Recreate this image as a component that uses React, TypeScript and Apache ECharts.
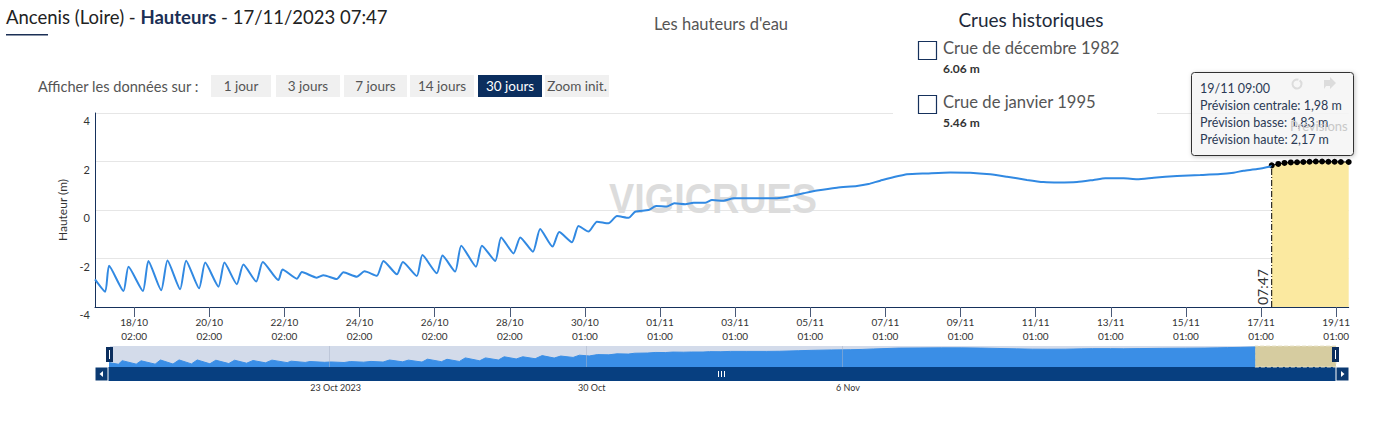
import React, { useEffect, useRef } from 'react';
import * as echarts from 'echarts';

// Observed heights: hours since 18/10/2023 00:00 UTC, level in metres
const obsHours = [
  -25, -18.5, -16.0, -6.8, -3.6, 5.6, 9.1, 17.3, 21.3, 29.4, 33.2, 41.5, 45.4, 53.9, 57.7,
  65.6, 69.8, 78.0, 82.2, 92.2, 94.8, 104.0, 107.2, 116.7, 121.0, 129.5, 133.7, 142.3, 147.2,
  155.1, 159.3, 167.9, 171.7, 180.6, 184.2, 193.4, 197.0, 205.1, 209.0, 218.4, 222.2, 230.7,
  234.5, 242.4, 246.7, 254.8, 259.4, 267.3, 271.6, 279.7, 283.9, 290.3, 295.7, 303.1, 308.5,
  315.9, 320.1, 328.6, 333.5, 340.4, 345.1, 352.1, 357.4, 364.9, 369.2, 376.6, 383.0, 393.6,
  406.4, 414.9, 427.7, 436.3, 449.0, 461.8, 469.2, 476.7, 493.7, 506.5, 521.4, 534.2, 547.0,
  557.7, 570.4, 581.0, 590.6, 602.4, 613.0, 620.5, 632.2, 640.8, 651.4, 666.3, 681.2, 694.0,
  702.5, 708.9, 717.5, 727.0,
];
const obsLevels = [
  -2.86, -3.37, -2.30, -3.34, -2.34, -3.34, -2.10, -3.31, -2.08, -3.27, -2.09, -3.23, -2.17, -3.16, -2.17,
  -3.06, -2.25, -2.95, -2.14, -2.89, -2.45, -2.83, -2.56, -2.79, -2.69, -2.85, -2.57, -2.75, -2.53,
  -2.71, -2.10, -2.65, -2.14, -2.72, -1.86, -2.61, -1.88, -2.54, -1.47, -2.34, -1.47, -2.10,
  -1.13, -1.79, -1.13, -1.72, -0.78, -1.51, -0.91, -1.33, -0.66, -0.89, -0.48, -0.55, -0.25,
  -0.32, -0.07, 0.0, 0.16, 0.14, 0.28, 0.24, 0.30, 0.30, 0.41, 0.38, 0.48, 0.48,
  0.48, 0.52, 0.69, 0.80, 0.92, 0.99, 1.07, 1.21, 1.47, 1.51, 1.55, 1.54, 1.47,
  1.37, 1.24, 1.15, 1.13, 1.15, 1.24, 1.31, 1.31, 1.27, 1.33, 1.40, 1.44, 1.48,
  1.54, 1.62, 1.69, 1.81,
];

// Forecast (central)
const fcHours = [726.8, 731, 735, 739, 743, 747, 751, 755, 759, 763, 767, 771, 776];
const fcLevels = [1.84, 1.9, 1.94, 1.96, 1.97, 1.98, 1.99, 2.0, 2.0, 1.99, 1.99, 1.98, 1.98];
const fcLowLast = '1,83';
const fcHighLast = '2,17';
const fcCentralLast = '1,98';
const tooltipTime = '19/11 09:00';

const nowHour = 726.8;
const nowLabel = '07:47';

const tickHours = [0, 48, 96, 144, 192, 240, 288, 336, 384, 432, 480, 528, 576, 624, 672, 720, 768];
const tickLabels = [
  '18/10\n02:00', '20/10\n02:00', '22/10\n02:00', '24/10\n02:00', '26/10\n02:00', '28/10\n02:00',
  '30/10\n01:00', '01/11\n01:00', '03/11\n01:00', '05/11\n01:00', '07/11\n01:00', '09/11\n01:00',
  '11/11\n01:00', '13/11\n01:00', '15/11\n01:00', '17/11\n01:00', '19/11\n01:00',
];
const navHours = [120, 288, 456];
const navLabels = ['23 Oct 2023', '30 Oct', '6 Nov'];

const crueNames = ['Crue de décembre 1982', 'Crue de janvier 1995'];
const crueValues = ['6.06 m', '5.46 m'];
const rangeButtons = ['1 jour', '3 jours', '7 jours', '14 jours', '30 jours', 'Zoom init.'];
const activeButton = '30 jours';

const NAVY = '#16315c';
const FONT = 'Lato, "Liberation Sans", sans-serif';

export default function App() {
  const ref = useRef<HTMLDivElement>(null);
  useEffect(() => {
    if (!ref.current) return;
    const chart = echarts.init(ref.current, undefined, { renderer: 'svg' });
    const obs = obsHours.map((h, i) => [h, obsLevels[i]]);
    const fc = fcHours.map((h, i) => [h, fcLevels[i]]);
    chart.setOption({
      animation: false,
      textStyle: { fontFamily: FONT },
      grid: [
        { left: 95, right: 36.3, top: 113, height: 194 },
        { left: 110, right: 49, top: 346, height: 21, show: true, backgroundColor: '#d3dbea', borderWidth: 0 },
      ],
      xAxis: [
        {
          type: 'value', gridIndex: 0, min: -25, max: 776,
          axisLine: { onZero: false, lineStyle: { color: NAVY, width: 1 } },
          axisTick: { show: true, customValues: tickHours, length: 10, lineStyle: { color: '#4a5a78' } },
          axisLabel: {
            customValues: tickHours, fontSize: 10, lineHeight: 14, margin: 8, color: '#333',
            formatter: (v: number) => tickLabels[Math.round(v / 48)] ?? '',
          },
          splitLine: { show: false },
        },
        {
          type: 'value', gridIndex: 1, min: -24, max: 780,
          axisLine: { show: false }, axisTick: { show: false },
          axisLabel: {
            customValues: navHours, fontSize: 9, margin: 16, color: '#333', padding: [0, 0, 0, 12],
            formatter: (v: number) => navLabels[navHours.indexOf(v)] ?? '',
          },
          splitLine: { show: false },
        },
      ],
      yAxis: [
        {
          type: 'value', gridIndex: 0, min: -4, max: 4, interval: 2,
          name: 'Hauteur (m)', nameLocation: 'middle', nameGap: 17, nameRotate: 90,
          nameTextStyle: { fontSize: 12, color: '#333' },
          axisLine: { show: true, onZero: false, lineStyle: { color: NAVY, width: 1 } },
          axisTick: { show: false },
          axisLabel: { fontSize: 11, color: '#333', verticalAlign: 'top', padding: [2, 0, 0, 0], margin: 5 },
          splitLine: { lineStyle: { color: '#e6e6e6' } },
        },
        { type: 'value', gridIndex: 1, min: -4.2, max: 2.1, show: false },
      ],
      series: [
        {
          type: 'line', xAxisIndex: 0, yAxisIndex: 0, data: fc, z: 1,
          symbol: 'circle', symbolSize: 6, showSymbol: true,
          itemStyle: { color: '#000' }, lineStyle: { color: '#000', width: 1 },
          areaStyle: { color: '#fbe9a0', opacity: 1, origin: 'start' },
        },
        {
          type: 'line', xAxisIndex: 0, yAxisIndex: 0, z: 3,
          data: [[nowHour, -4], [nowHour, fcLevels[0]]],
          symbol: 'none', lineStyle: { color: '#000', width: 1, type: [6, 2, 1, 2] },
        },
        {
          type: 'line', xAxisIndex: 0, yAxisIndex: 0, data: obs, z: 2,
          symbol: 'none', smooth: 0.2, lineStyle: { color: '#3189e2', width: 2 },
        },
        {
          type: 'line', xAxisIndex: 1, yAxisIndex: 1, data: obs, symbol: 'none', z: 2,
          lineStyle: { color: '#3a8ee6', width: 1 },
          areaStyle: { color: '#3a8ee6', opacity: 1, origin: 'start' },
          markLine: {
            silent: true, symbol: 'none', label: { show: false },
            lineStyle: { color: 'rgba(170,180,200,0.5)', width: 1, type: 'solid' },
            data: navHours.map((h) => ({ xAxis: h })),
          },
        },
        {
          type: 'line', xAxisIndex: 1, yAxisIndex: 1, data: fc, symbol: 'none', z: 5,
          lineStyle: { width: 0, opacity: 0 },
          markArea: {
            silent: true, itemStyle: { color: '#d6cca0', borderColor: '#e8e2c8', borderType: 'dashed', borderWidth: 1 },
            data: [[{ xAxis: nowHour }, { xAxis: 780 }]],
          },
        },
      ],
    });

    const [nx, ny] = chart.convertToPixel({ gridIndex: 0 }, [nowHour, -4]) as number[];

    const btnX = [211, 276, 344, 410, 478, 545];
    const btnW = [60, 64, 63, 64, 64, 64];
    const buttons: any[] = [];
    rangeButtons.forEach((b, i) => {
      const active = b === activeButton;
      buttons.push({
        type: 'rect', shape: { x: btnX[i], y: 75, width: btnW[i], height: 22 },
        style: { fill: active ? '#0b2e5e' : '#f0f0f0' },
      });
      buttons.push({
        type: 'text', x: btnX[i] + btnW[i] / 2, y: 86,
        style: { text: b, fill: active ? '#fff' : '#555', font: `13.5px ${FONT}`, align: 'center', verticalAlign: 'middle' },
      });
    });

    const crues: any[] = [];
    crueNames.forEach((n, i) => {
      const y0 = 41 + i * 54;
      crues.push({ type: 'rect', z: 11, shape: { x: 918.5, y: y0 + 0.5, width: 18, height: 18 }, style: { fill: '#fff', stroke: NAVY, lineWidth: 1.2 } });
      crues.push({ type: 'text', z: 11, x: 943, y: y0 + 7, style: { text: n, fill: '#555', font: `16.6px ${FONT}`, verticalAlign: 'middle' } });
      crues.push({ type: 'text', z: 11, x: 943, y: y0 + 27, style: { text: crueValues[i], fill: '#333', font: `bold 12px ${FONT}`, verticalAlign: 'middle' } });
    });

    chart.setOption({
      graphic: [
        {
          type: 'text', x: 713, y: 198, z: 0, scaleX: 0.9,
          style: { text: 'VIGICRUES', fill: '#dcdcdc', font: `bold 42px "Liberation Sans", sans-serif`, align: 'center', verticalAlign: 'middle' },
        },
        {
          type: 'text', x: 6, y: 17,
          style: {
            text: '{a|Ancenis (Loire) - }{b|Hauteurs}{a| - 17/11/2023 07:47}',
            rich: {
              a: { fontSize: 18.5, fontFamily: FONT, fill: '#222' },
              b: { fontSize: 18.5, fontFamily: FONT, fontWeight: 'bold', fill: '#1b2f55' },
            },
            verticalAlign: 'middle',
          },
        },
        { type: 'rect', shape: { x: 6, y: 34, width: 42, height: 1.5 }, style: { fill: '#1b2f55' } },
        { type: 'text', x: 721, y: 24, style: { text: "Les hauteurs d'eau", fill: '#555', font: `16.5px ${FONT}`, align: 'center', verticalAlign: 'middle' } },
        { type: 'rect', z: 10, shape: { x: 893, y: 0, width: 264, height: 130 }, style: { fill: '#fff' } },
        { type: 'text', z: 11, x: 1031, y: 19, style: { text: 'Crues historiques', fill: '#1e2a3a', font: `19px ${FONT}`, align: 'center', verticalAlign: 'middle' } },
        ...crues,
        { type: 'text', x: 38, y: 86, style: { text: 'Afficher les données sur :', fill: '#555', font: `14.6px ${FONT}`, verticalAlign: 'middle' } },
        ...buttons,
        {
          type: 'text', x: nx - 9, y: ny - 2, rotation: Math.PI / 2,
          style: { text: nowLabel, fill: '#333', font: `14px ${FONT}`, align: 'left', verticalAlign: 'middle' },
        },
        // navigator handles
        { type: 'rect', shape: { x: 106, y: 347, width: 7, height: 15 }, style: { fill: '#0b2e5e' } },
        { type: 'line', shape: { x1: 109.5, y1: 350, x2: 109.5, y2: 359 }, style: { stroke: '#fff', lineWidth: 1 } },
        { type: 'rect', z: 20, shape: { x: 1332, y: 347, width: 7, height: 15 }, style: { fill: '#0b2e5e' } },
        { type: 'line', z: 21, shape: { x1: 1335.5, y1: 350, x2: 1335.5, y2: 359 }, style: { stroke: '#fff', lineWidth: 1 } },
        // scrollbar
        { type: 'rect', shape: { x: 95, y: 367, width: 1254, height: 14 }, style: { fill: '#073f80' } },
        { type: 'rect', shape: { x: 95, y: 367, width: 13, height: 14 }, style: { fill: '#0b3a72', stroke: '#fff', lineWidth: 1 } },
        { type: 'rect', shape: { x: 1336, y: 367, width: 13, height: 14 }, style: { fill: '#0b3a72', stroke: '#fff', lineWidth: 1 } },
        { type: 'polygon', shape: { points: [[103, 371], [103, 377], [99.5, 374]] }, style: { fill: '#fff' } },
        { type: 'polygon', shape: { points: [[1341, 371], [1341, 377], [1344.5, 374]] }, style: { fill: '#fff' } },
        { type: 'line', shape: { x1: 718.5, y1: 371, x2: 718.5, y2: 377 }, style: { stroke: '#fff', lineWidth: 1 } },
        { type: 'line', shape: { x1: 721.5, y1: 371, x2: 721.5, y2: 377 }, style: { stroke: '#fff', lineWidth: 1 } },
        { type: 'line', shape: { x1: 724.5, y1: 371, x2: 724.5, y2: 377 }, style: { stroke: '#fff', lineWidth: 1 } },
        // plot band label + tooltip
        { type: 'text', x: 1290, y: 126, z: 50, style: { text: 'Prévisions', fill: '#c8c8c8', font: `13px ${FONT}`, verticalAlign: 'middle' } },
        {
          type: 'group', z: 100,
          children: [
            {
              type: 'rect', shape: { x: 1191.5, y: 72.5, width: 162, height: 83, r: 3 },
              style: { fill: 'rgba(248,248,248,0.85)', stroke: '#333', lineWidth: 1, shadowBlur: 4, shadowColor: 'rgba(0,0,0,0.25)', shadowOffsetX: 1, shadowOffsetY: 1 },
            },
            { type: 'arc', shape: { cx: 1297, cy: 84, r: 4.5, startAngle: -Math.PI * 0.3, endAngle: Math.PI * 1.6 }, style: { stroke: '#dcdcdc', lineWidth: 2, fill: 'none' } },
            { type: 'polygon', shape: { points: [[1336, 83], [1330, 77], [1330, 80], [1324, 80], [1324, 89], [1326, 86], [1330, 86], [1330, 89]] }, style: { fill: '#dcdcdc' } },
            { type: 'text', x: 1200, y: 88, style: { text: tooltipTime, fill: '#2b3a55', font: `12.5px ${FONT}`, verticalAlign: 'middle' } },
            { type: 'text', x: 1200, y: 105, style: { text: `Prévision centrale: ${fcCentralLast} m`, fill: '#2b3a55', font: `12.5px ${FONT}`, verticalAlign: 'middle' } },
            { type: 'text', x: 1200, y: 122, style: { text: `Prévision basse: ${fcLowLast} m`, fill: '#2b3a55', font: `12.5px ${FONT}`, verticalAlign: 'middle' } },
            { type: 'text', x: 1200, y: 139, style: { text: `Prévision haute: ${fcHighLast} m`, fill: '#2b3a55', font: `12.5px ${FONT}`, verticalAlign: 'middle' } },
          ],
        },
      ],
    });
    return () => chart.dispose();
  }, []);
  return <div ref={ref} style={{ position: 'absolute', left: 0, top: 0, width: 1385, height: 427 }} />;
}
